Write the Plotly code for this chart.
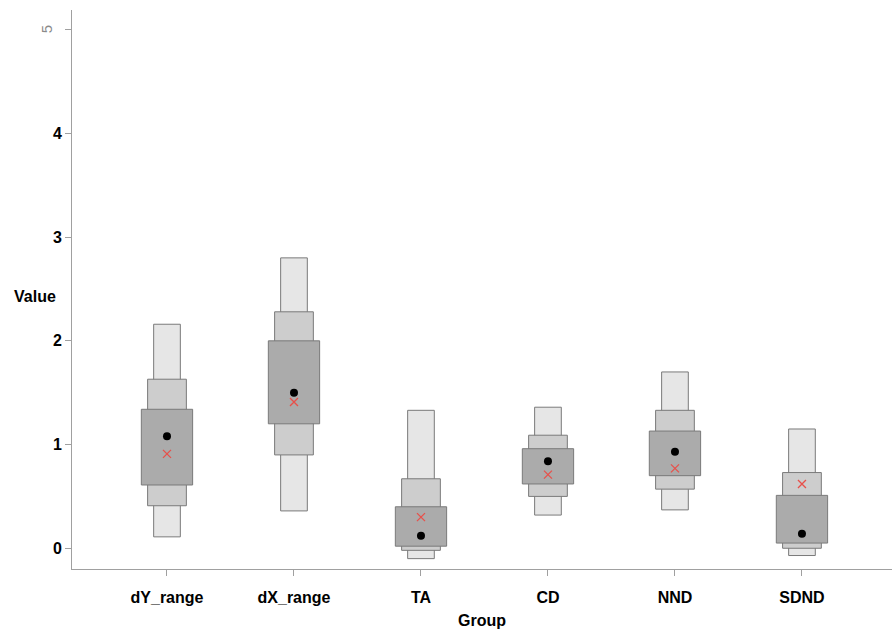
import plotly.graph_objects as go

groups = ["dY_range", "dX_range", "TA", "CD", "NND", "SDND"]

outer_low = [0.11, 0.36, -0.10, 0.32, 0.37, -0.07]
outer_high = [2.16, 2.80, 1.33, 1.36, 1.70, 1.15]
mid_low = [0.41, 0.90, -0.02, 0.50, 0.57, 0.00]
mid_high = [1.63, 2.28, 0.67, 1.09, 1.33, 0.73]
inner_low = [0.61, 1.20, 0.02, 0.62, 0.70, 0.05]
inner_high = [1.34, 2.00, 0.40, 0.96, 1.13, 0.51]
median = [1.08, 1.50, 0.12, 0.84, 0.93, 0.14]
mean = [0.91, 1.41, 0.30, 0.71, 0.77, 0.62]

y_ticks = [0, 1, 2, 3, 4, 5]
y_ticktext = ["0", "1", "2", "3", "4", ""]

fig = go.Figure()

levels = [
    (outer_low, outer_high, 0.21, "#e6e6e6"),
    (mid_low, mid_high, 0.305, "#cdcdcd"),
    (inner_low, inner_high, 0.404, "#ababab"),
]
for lo, hi, w, col in levels:
    fig.add_trace(go.Bar(
        x=groups, y=[h - l for l, h in zip(lo, hi)], base=lo, width=w,
        marker=dict(color=col, line=dict(color="#7a7a7a", width=1)),
        showlegend=False, hoverinfo="skip"))

fig.add_trace(go.Scatter(
    x=groups, y=median, mode="markers",
    marker=dict(symbol="circle", size=8, color="black"), showlegend=False))
fig.add_trace(go.Scatter(
    x=groups, y=mean, mode="markers",
    marker=dict(symbol="x-thin", size=8, line=dict(color="#e8504a", width=1.3)),
    showlegend=False))

axis_font = dict(family="Liberation Sans, Arial, sans-serif", size=16, color="black")

fig.update_layout(
    width=892, height=635,
    margin=dict(l=72, r=0, t=10, b=66),
    paper_bgcolor="white", plot_bgcolor="white",
    barmode="overlay",
    font=dict(family="Liberation Sans, Arial, sans-serif"),
    xaxis=dict(
        range=[-0.748, 5.709], showline=True, linecolor="#a0a0a0", linewidth=1,
        ticks="outside", ticklen=6, tickcolor="#a0a0a0", showgrid=False, zeroline=False,
        tickfont=dict(**axis_font, weight="bold"), ticklabelstandoff=8,
        title=dict(text="<b>Group</b>", font=axis_font, standoff=9),
    ),
    yaxis=dict(
        range=[-0.2, 5.19], showline=True, linecolor="#a0a0a0", linewidth=1,
        ticks="outside", ticklen=6, tickcolor="#a0a0a0", showgrid=False, zeroline=False,
        tickvals=y_ticks, ticktext=y_ticktext,
        tickfont=dict(**axis_font, weight="bold"),
    ),
)

fig.add_annotation(
    text="5", xref="paper", yref="y", x=0, y=5, xanchor="right", yanchor="middle",
    xshift=-15, textangle=-90, showarrow=False,
    font=dict(family="Liberation Sans, Arial, sans-serif", size=15, color="#8a8a8a"))
fig.add_annotation(
    text="<b>Value</b>", xref="paper", yref="y", x=0, y=2.43, xanchor="center",
    yanchor="middle", xshift=-37, showarrow=False, font=axis_font)

fig.write_html("out.html")
